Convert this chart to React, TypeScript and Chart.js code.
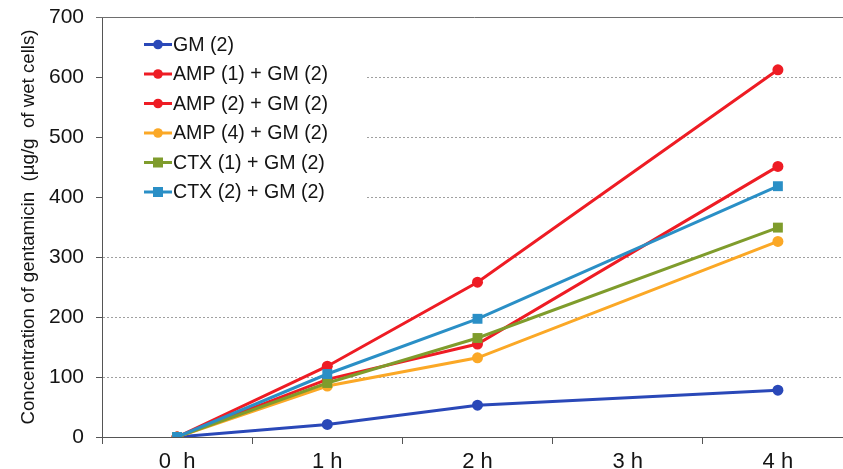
import { useEffect, useRef } from "react";
import { Chart, registerables } from "chart.js";

Chart.register(...registerables);

const categories = ["0  h", "1 h", "2 h", "3 h", "4 h"];
const seriesNames = [
  "GM (2)",
  "AMP (1) + GM (2)",
  "AMP (2) + GM (2)",
  "AMP (4) + GM (2)",
  "CTX (1) + GM (2)",
  "CTX (2) + GM (2)",
];
const gm2 = [0, 21, 53, null, 78];
const amp1gm2 = [0, 118, 258, null, 612];
const amp2gm2 = [0, 96, 155, null, 451];
const amp4gm2 = [0, 85, 132, null, 326];
const ctx1gm2 = [0, 90, 165, null, 349];
const ctx2gm2 = [0, 105, 197, null, 418];
const yMin = 0;
const yMax = 700;
const yStep = 100;
const yTitle = "Concentration of gentamicin  (\u00b5g/g  of wet cells)";

const seriesValues = [gm2, amp1gm2, amp2gm2, amp4gm2, ctx1gm2, ctx2gm2];
const seriesColors = ["#2a48b8", "#ee1c24", "#ee1c24", "#fba826", "#7f9c2c", "#2a8fc6"];
const seriesShapes = ["circle", "circle", "circle", "circle", "rect", "rect"];
const seriesOrder = [5, 4, 3, 2, 1, 0];

const FONT = "'Liberation Sans', Arial, sans-serif";

const boxLegend = {
  id: "boxLegend",
  beforeDatasetsDraw(chart: any) {
    const { ctx, chartArea, scales } = chart;
    const yTop = scales.y.getPixelForValue(yMax);
    ctx.save();
    ctx.strokeStyle = "#6e6e6e";
    ctx.lineWidth = 1;
    ctx.beginPath();
    ctx.moveTo(chartArea.left - 6, Math.round(yTop) + 0.5);
    ctx.lineTo(chartArea.right, Math.round(yTop) + 0.5);
    ctx.stroke();
    ctx.fillStyle = "#ffffff";
    ctx.fillRect(chartArea.left + 1, yTop + 3, 264, 196);
    chart.data.datasets.forEach((ds: any, i: number) => {
      const cy = yTop + 27.5 + i * 29.5;
      const x0 = chartArea.left + 42;
      const x1 = chartArea.left + 70;
      const mx = (x0 + x1) / 2;
      ctx.strokeStyle = ds.borderColor;
      ctx.lineWidth = 3;
      ctx.beginPath();
      ctx.moveTo(x0, cy);
      ctx.lineTo(x1, cy);
      ctx.stroke();
      ctx.fillStyle = ds.backgroundColor;
      if (ds.pointStyle === "rect") {
        ctx.fillRect(mx - 5, cy - 5, 10, 10);
      } else {
        ctx.beginPath();
        ctx.arc(mx, cy, 4.8, 0, Math.PI * 2);
        ctx.fill();
      }
      ctx.fillStyle = "#141414";
      ctx.font = `19.6px ${FONT}`;
      ctx.textBaseline = "middle";
      ctx.textAlign = "left";
      ctx.fillText(ds.label, x1 + 1, cy + 1);
    });
    ctx.restore();
  },
};

export default function App() {
  const canvasRef = useRef<HTMLCanvasElement | null>(null);

  useEffect(() => {
    document.body.style.margin = "0";
    if (!canvasRef.current) return;
    const chart = new Chart(canvasRef.current, {
      type: "line",
      data: {
        labels: categories,
        datasets: seriesNames.map((name, i) => ({
          label: name,
          data: seriesValues[i],
          borderColor: seriesColors[i],
          backgroundColor: seriesColors[i],
          pointStyle: seriesShapes[i],
          pointRadius: seriesShapes[i] === "rect" ? 7 : 5.5,
          pointBorderWidth: 0,
          borderWidth: 3,
          spanGaps: true,
          tension: 0,
          order: seriesOrder[i],
        })),
      },
      options: {
        animation: false,
        responsive: true,
        maintainAspectRatio: false,
        layout: { padding: { top: 17, right: 0, left: 0, bottom: 0 } },
        plugins: {
          legend: { display: false },
          tooltip: { enabled: false },
        },
        scales: {
          x: {
            type: "category",
            offset: true,
            afterFit: (s: any) => {
              s.height = 32;
              s.paddingLeft = 0;
              s.paddingRight = 0;
            },
            grid: {
              display: true,
              drawOnChartArea: false,
              drawTicks: true,
              tickLength: 7,
              offset: true,
              color: "#555",
              tickColor: "#555",
            },
            border: { display: true, color: "#555", width: 1 },
            ticks: {
              color: "#141414",
              font: { family: FONT, size: 22 },
              padding: 5,
              maxRotation: 0,
              autoSkip: false,
            },
          },
          y: {
            min: yMin,
            max: yMax,
            afterFit: (s: any) => {
              s.width = 102;
              s.paddingTop = 0;
              s.paddingBottom = 0;
            },
            ticks: {
              stepSize: yStep,
              color: "#141414",
              font: { family: FONT, size: 21 },
              padding: 12,
            },
            grid: {
              drawTicks: true,
              tickLength: 6,
              color: (c: any) =>
                c.tick && (c.tick.value === yMin || c.tick.value === yMax) ? "rgba(0,0,0,0)" : "#a0a0a0",
              tickColor: "#555",
              lineWidth: 1,
            },
            border: { display: true, color: "#555", width: 1, dash: [2, 2] },
            title: {
              display: true,
              text: yTitle,
              color: "#141414",
              font: { family: FONT, size: 18.7 },
              padding: { top: 18, bottom: 0 },
            },
          },
        },
      },
      plugins: [boxLegend],
    });
    return () => chart.destroy();
  }, []);

  return (
    <div style={{ width: 843, height: 469, overflow: "hidden", position: "relative" }}>
      <div style={{ width: 860, height: 469, position: "relative" }}>
        <canvas ref={canvasRef} />
      </div>
    </div>
  );
}
